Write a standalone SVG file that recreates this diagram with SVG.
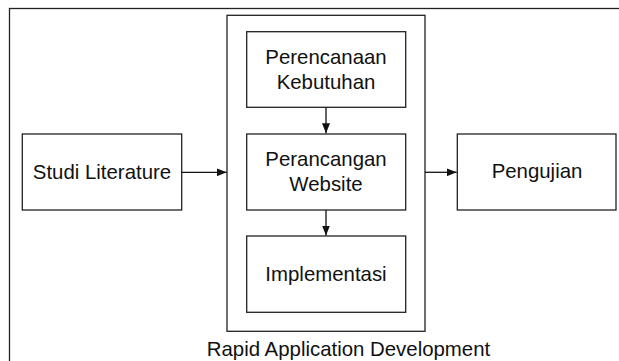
<svg xmlns="http://www.w3.org/2000/svg" width="619" height="361" viewBox="0 0 619 361">
<defs>
<style>
.box{fill:#fff;stroke:#222;stroke-width:1.3}
.frame{fill:none;stroke:#222;stroke-width:1.3}
.lbl{font-family:"Liberation Sans",Arial,sans-serif;font-size:20.4px;fill:#111;text-anchor:middle}
.con{stroke:#111;stroke-width:1.3;fill:none;marker-end:url(#ah)}
</style>
<marker id="ah" viewBox="0 0 10 8" refX="10" refY="4" markerWidth="10" markerHeight="8" markerUnits="userSpaceOnUse" orient="auto">
<path d="M0,0 L10,4 L0,8 Z" fill="#111"/>
</marker>
</defs>
<rect width="619" height="361" fill="#fff"/>
<g id="outer-frame">
<rect class="frame" x="9.5" y="8.5" width="640" height="380"/>
</g>
<g id="rad">
<rect class="frame" x="227" y="15.3" width="198" height="316"/>
<text class="lbl" x="348.5" y="356">Rapid Application Development</text>
</g>
<g id="studi">
<rect class="box" x="22.3" y="134" width="159.4" height="76"/>
<text class="lbl" x="102" y="179">Studi Literature</text>
</g>
<g id="perencanaan">
<rect class="box" x="246.7" y="31.7" width="159" height="75.6"/>
<text class="lbl" x="326" y="63.5">Perencanaan</text>
<text class="lbl" x="326" y="88.5">Kebutuhan</text>
</g>
<g id="perancangan">
<rect class="box" x="246.7" y="134" width="159" height="76"/>
<text class="lbl" x="326" y="166">Perancangan</text>
<text class="lbl" x="326" y="191">Website</text>
</g>
<g id="implementasi">
<rect class="box" x="246.7" y="236" width="159" height="76.3"/>
<text class="lbl" x="326" y="281">Implementasi</text>
</g>
<g id="pengujian">
<rect class="box" x="457.3" y="134" width="158.7" height="76"/>
<text class="lbl" x="537" y="177.5">Pengujian</text>
</g>
<g id="connectors">
<line class="con" x1="181.7" y1="172.3" x2="226.7" y2="172.3"/>
<line class="con" x1="425" y1="172.3" x2="456.7" y2="172.3"/>
<line class="con" x1="326" y1="107.3" x2="326" y2="133.3"/>
<line class="con" x1="326" y1="210" x2="326" y2="235.5"/>
</g>
</svg>
